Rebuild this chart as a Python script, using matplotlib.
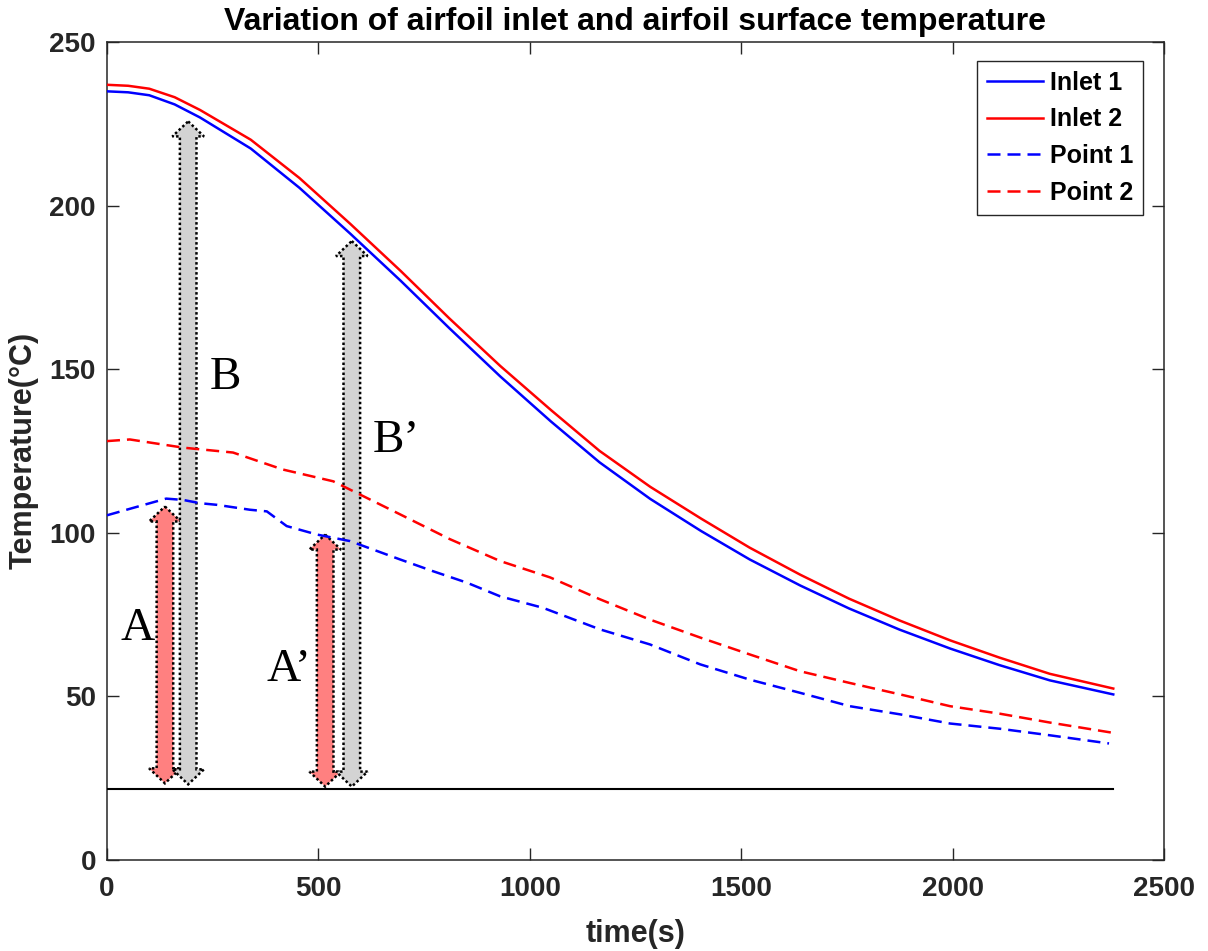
import matplotlib
matplotlib.use('Agg')
import matplotlib.pyplot as plt
from matplotlib.patches import Polygon

plt.rcParams['font.family'] = ['Liberation Sans', 'DejaVu Sans']

# Datos
t_inlet = [0, 50, 100, 160, 220, 340, 455, 575, 695, 810, 930, 1050, 1165, 1285,
           1405, 1520, 1640, 1755, 1875, 1995, 2110, 2230, 2380]
inlet1 = [235, 234.7, 233.8, 231, 227, 217.5, 205.5, 191.5, 177, 162.5, 147.8, 134, 121.5, 110.3,
          100.5, 91.8, 83.8, 76.8, 70.3, 64.5, 59.5, 54.8, 50.5]
inlet2 = [237, 236.7, 235.8, 233.2, 229.3, 220.2, 208.5, 194.5, 180, 165.5, 151, 137.5, 125, 114,
          104.3, 95.4, 87.1, 79.8, 73.1, 67, 61.8, 56.8, 52.3]

t_point1 = [0, 60, 140, 180, 220, 260, 338, 378, 425, 497, 575, 693, 771, 851,
            930, 1031, 1166, 1284, 1403, 1521, 1639, 1757, 1876, 1994, 2112, 2230, 2370]
point1 = [105.3, 107.5, 110.4, 110, 109, 108.5, 107, 106.5, 102, 99.4, 97.4, 91.8, 88.2, 84.7,
          80.5, 77, 70.4, 65.8, 59.7, 55, 51, 46.9, 44.4, 41.6, 40, 38, 35.5]

t_point2 = [0, 54, 180, 298, 416, 535, 693, 811, 930, 1048, 1166, 1284,
            1403, 1521, 1639, 1757, 1876, 1994, 2112, 2230, 2377]
point2 = [128, 128.5, 126, 124.5, 119.3, 115.7, 105.6, 98, 91.3, 86.3, 79.6, 73.4,
          67.9, 62.7, 57.6, 54, 50.5, 46.9, 44.6, 41.9, 38.8]

t_ambient = [0, 2380]
ambient = [21.7, 21.7]

# flechas A, B, A', B'
arrow_t = [137, 192, 516, 579]
arrow_bottom = [23.3, 23.0, 22.3, 22.3]
arrow_top = [108, 225.8, 99.4, 189.2]
arrow_color = ['#ff8080', '#d3d3d3', '#ff8080', '#d3d3d3']

label_text = ['A', 'B', 'A\u2019', 'B\u2019']
label_t = [31, 244, 378, 629]
label_T = [70.7, 147.5, 58, 128]

fig = plt.figure(figsize=(12.08, 9.51), dpi=100)
ax = fig.add_axes([107 / 1208, 1 - 859.5 / 951, 1057 / 1208, 817.2 / 951])
ax.set_xlim(0, 2500)
ax.set_ylim(0, 250)

ax.plot(t_inlet, inlet1, color='#0000ff', lw=1.8, label='Inlet 1', zorder=3)
ax.plot(t_inlet, inlet2, color='#ff0000', lw=1.8, label='Inlet 2', zorder=3)
ax.plot(t_point1, point1, color='#0000ff', lw=1.8, dashes=(5.2, 2.8), label='Point 1', zorder=3)
ax.plot(t_point2, point2, color='#ff0000', lw=1.8, dashes=(5.2, 2.8), label='Point 2', zorder=3)
ax.plot(t_ambient, ambient, color='black', lw=1.5, zorder=3)

# flechas dobles (anchos en pixeles)
px_t = ax.bbox.width / 2500
px_T = ax.bbox.height / 250
for xc, y0, y1, col in zip(arrow_t, arrow_bottom, arrow_top, arrow_color):
    w = 8.3 / px_t
    hw = 15.8 / px_t
    hl = 15 / px_T
    verts = [(xc, y1), (xc + hw, y1 - hl), (xc + w, y1 - hl), (xc + w, y0 + hl),
             (xc + hw, y0 + hl), (xc, y0), (xc - hw, y0 + hl), (xc - w, y0 + hl),
             (xc - w, y1 - hl), (xc - hw, y1 - hl)]
    ax.add_patch(Polygon(verts, closed=True, facecolor=col, edgecolor='black',
                         linestyle=(0, (1, 1)), lw=1.8, zorder=2))

for s, xt, yt in zip(label_text, label_t, label_T):
    ax.text(xt, yt, s, ha='left', va='center', fontsize=34,
            family=['Liberation Serif', 'DejaVu Serif'], zorder=4)

ax.set_xticks([0, 500, 1000, 1500, 2000, 2500])
ax.set_yticks([0, 50, 100, 150, 200, 250])
ax.tick_params(direction='in', length=8.5, width=1, top=True, right=True,
               labelsize=20, colors='#262626')
ax.tick_params(axis='x', pad=12)
ax.tick_params(axis='y', pad=8)
for lab in ax.get_xticklabels() + ax.get_yticklabels():
    lab.set_fontweight('bold')
for sp in ax.spines.values():
    sp.set_color('#262626')
    sp.set_linewidth(1.1)

ax.set_title('Variation of airfoil inlet and airfoil surface temperature',
             fontsize=23, fontweight='bold', pad=9)
ax.set_xlabel('time(s)', fontsize=22, fontweight='bold', color='#262626', labelpad=12)
ax.set_ylabel('Temperature(\u00b0C)', fontsize=22, fontweight='bold', color='#262626', labelpad=8)

leg = ax.legend(loc='upper right', bbox_to_anchor=(1143 / 1208, 1 - 61 / 951),
                bbox_transform=fig.transFigure, borderaxespad=0,
                prop={'size': 18, 'weight': 'bold'}, handlelength=2.26,
                handletextpad=0.25, labelspacing=0.5, borderpad=0.4,
                fancybox=False, framealpha=1, edgecolor='#262626')
leg.get_frame().set_linewidth(1.0)

plt.savefig('out.png', dpi=100)
